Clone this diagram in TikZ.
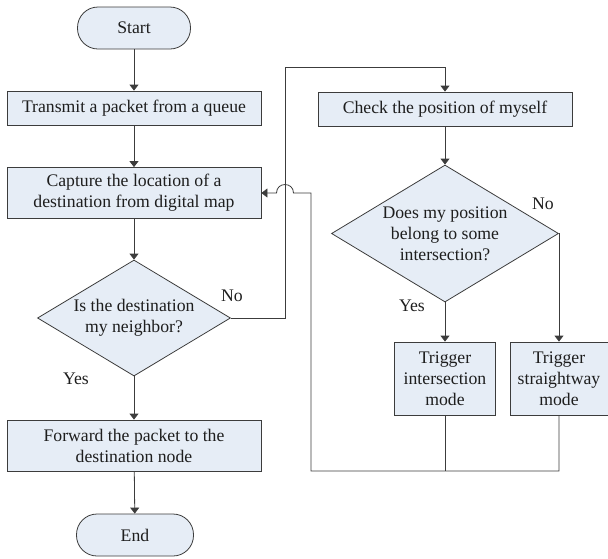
\documentclass[tikz,border=0pt]{standalone}
\usepackage{fontspec}
\setmainfont{Liberation Serif}
\usetikzlibrary{shapes.geometric,arrows.meta}
\definecolor{boxfill}{RGB}{230,237,246}
\definecolor{linecol}{RGB}{60,60,60}
\definecolor{txtcol}{RGB}{30,30,30}
\begin{document}
\begin{tikzpicture}[x=1pt,y=-1pt,
  font=\fontsize{17.7}{21}\selectfont,
  every node/.style={text=txtcol},
  box/.style={draw=linecol, fill=boxfill, line width=0.8pt, rectangle, inner sep=0pt, align=center},
  term/.style={box, rounded corners=20.5pt, minimum width=113pt, minimum height=42pt},
  dia/.style={draw=linecol, fill=boxfill, line width=0.8pt, diamond, inner sep=0pt},
  conn/.style={draw=linecol, line width=0.8pt},
  arr/.style={conn, -{Triangle[length=6pt,width=9pt]}},
  lab/.style={inner sep=0pt}]
\useasboundingbox (0,0) rectangle (608,558);
% left column
\node[term] (start) at (134,28) {Start};
\node[box, minimum width=254pt, minimum height=34pt] (tx) at (134,108) {Transmit a packet from a queue};
\node[box, minimum width=254pt, minimum height=51pt] (cap) at (134,193) {Capture the location of a\\destination from digital map};
\node[dia, minimum width=193pt, minimum height=116pt] (d1) at (134,318) {};
\node[lab, align=center] (d1t) at (d1) {Is the destination\\my neighbor?};
\node[box, minimum width=254pt, minimum height=51pt] (fw) at (134,445.5) {Forward the packet to the\\destination node};
\node[term, minimum width=117pt] (end) at (135,535) {End};
% right column
\node[box, minimum width=254pt, minimum height=34pt] (chk) at (445,109) {Check the position of myself};
\node[dia, minimum width=227pt, minimum height=137pt] (d2) at (445,233.5) {};
\node[lab, align=center] (d2t) at (d2) {Does my position\\belong to some\\intersection?};
\node[box, minimum width=101pt, minimum height=73pt] (t1) at (445,378.5) {Trigger\\intersection\\mode};
\node[box, minimum width=98pt, minimum height=73pt] (t2) at (559,378.5) {Trigger\\straightway\\mode};
% labels
\node[lab] (no1) at (232,296) {No};
\node[lab] (yes1) at (76,379) {Yes};
\node[lab] (yes2) at (412,306) {Yes};
\node[lab] (no2) at (543,204) {No};
% coordinates
\coordinate (up) at (285,67);
\coordinate (bl) at (311,471);
\coordinate (lt) at (311,193);
\coordinate (hr) at (293.5,193);
\coordinate (hl) at (276.5,193);
% connectors
\draw[arr] (start) -- (tx);
\draw[arr] (tx) -- (cap);
\draw[arr] (cap) -- (d1);
\draw[arr] (d1) -- (fw);
\draw[arr] (fw) -- (end);
\draw[arr] (d1.east) -| (up) -| (chk.north);
\draw[arr] (chk) -- (d2);
\draw[arr] (d2.south) -- (t1.north);
\draw[arr] (d2.east) -| (t2.north);
\draw[conn] (t1.south) -- (t1.south |- bl);
\draw[arr] (t2.south) |- (bl) -- (lt) -- (hr) .. controls (293.5,181.7) and (276.5,181.7) .. (hl) -- (cap.east);
\end{tikzpicture}
\end{document}
